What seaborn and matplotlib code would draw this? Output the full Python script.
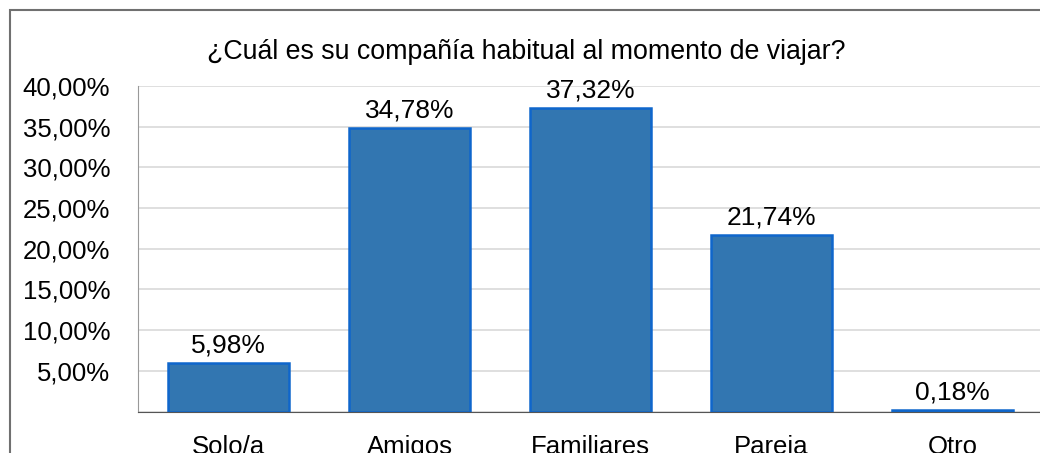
import matplotlib.pyplot as plt
import numpy as np
import pandas as pd
import seaborn as sns
from matplotlib.patches import Rectangle
from matplotlib.ticker import FuncFormatter

# Datos
categorias = ["Solo/a", "Amigos", "Familiares", "Pareja", "Otro"]
porcentajes = [5.98, 34.78, 37.32, 21.74, 0.18]
titulo = "¿Cuál es su compañía habitual al momento de viajar?"

df = pd.DataFrame({"categoria": categorias, "porcentaje": porcentajes})

sns.set_style("white")
plt.rcParams["font.family"] = ["Liberation Sans", "DejaVu Sans"]
plt.rcParams["text.color"] = "black"
plt.rcParams["xtick.labelcolor"] = "black"
plt.rcParams["ytick.labelcolor"] = "black"

fig = plt.figure(figsize=(10.4, 4.53), dpi=100)
ax = fig.add_axes([138 / 1040, 41.5 / 453, 905 / 1040, 325.5 / 453])

sns.barplot(data=df, x="categoria", y="porcentaje", ax=ax, color="#3276B1",
            width=0.67, edgecolor="#0F66CC", linewidth=1.8, saturation=1)

ax.set_xlim(-0.5, 4.5)
ax.set_ylim(0, 40)
ax.set_yticks(np.arange(0, 45, 5))
ax.yaxis.set_major_formatter(FuncFormatter(
    lambda v, p: "" if v == 0 else f"{v:.2f}%".replace(".", ",")))
ax.grid(axis="y", color="#d9d9d9", linewidth=1.2)
ax.set_axisbelow(True)

# ticks de categoría en los bordes
ax.set_xticks(np.arange(-0.5, 5, 1), minor=True)
ax.tick_params(axis="x", which="major", length=0, pad=17, labelsize=18.5, labelcolor="black")
ax.tick_params(axis="x", which="minor", length=6, color="#555555", width=1)
ax.tick_params(axis="y", length=7, color="#888888", width=1, pad=13, labelsize=18.5,
               labelcolor="black")
ax.set_xlabel("")
ax.set_ylabel("")

for s in ["top", "right"]:
    ax.spines[s].set_visible(False)
ax.spines["left"].set_color("#999999")
ax.spines["bottom"].set_color("#555555")

ax.bar_label(ax.containers[0], labels=[f"{v:.2f}%".replace(".", ",") for v in porcentajes],
             padding=4, fontsize=19, color="black")

fig.text(0.506, 1 - 52 / 453, titulo, ha="center", va="center", fontsize=19.3, color="black")

fig.add_artist(Rectangle((10 / 1040, -0.5), 2, 1.5 - 10 / 453, transform=fig.transFigure,
                         fill=False, edgecolor="#707070", linewidth=1.5, clip_on=False))

fig.savefig("out.png", dpi=100, facecolor="white")
